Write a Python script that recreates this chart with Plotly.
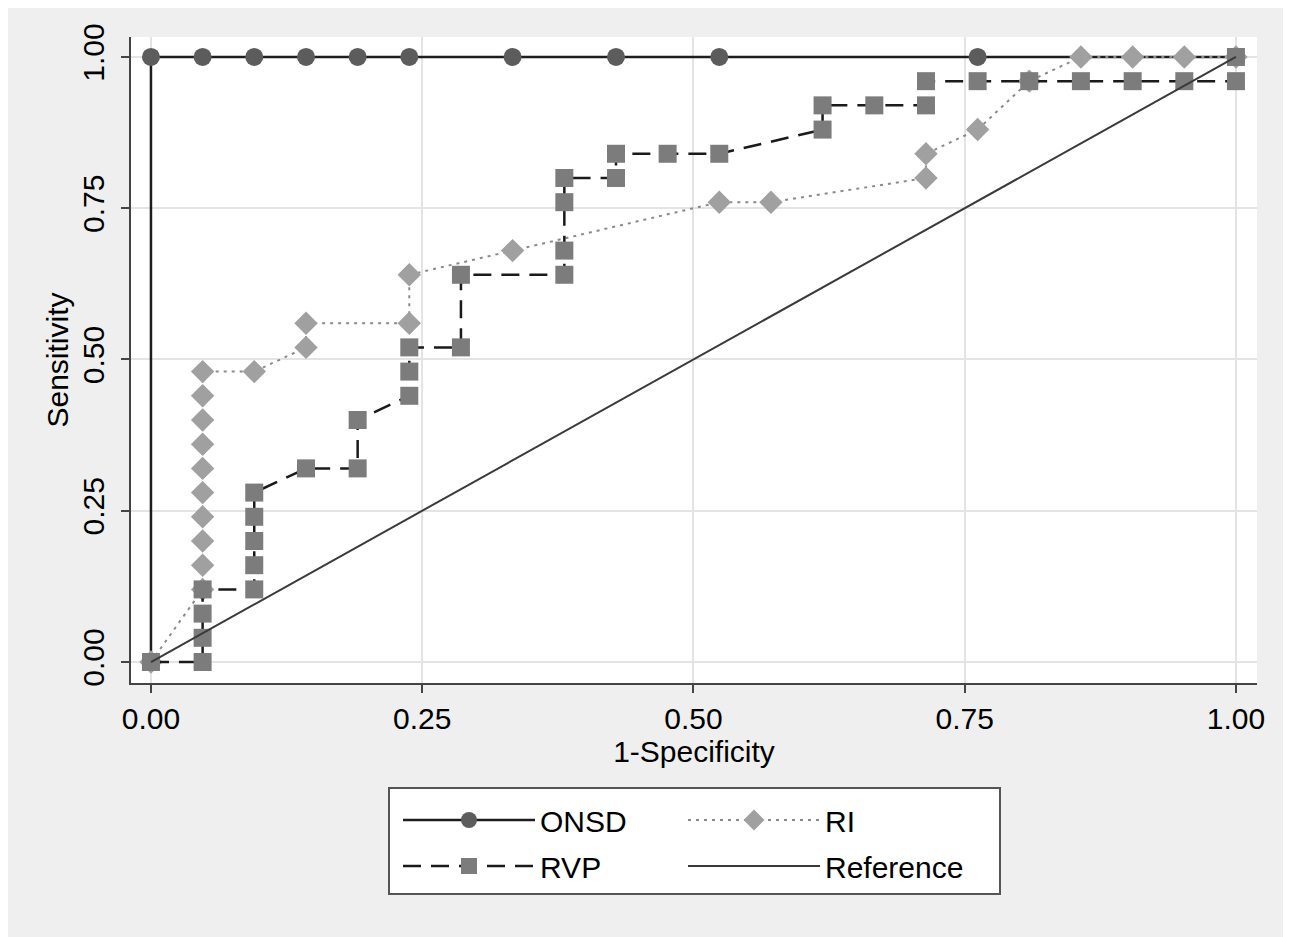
import plotly.graph_objects as go

# ---- data ----
onsd_x = [0, 0, 0.0476, 0.0952, 0.1429, 0.1905, 0.2381, 0.3333, 0.4286, 0.5238, 0.7619, 1.0]
onsd_y = [0, 1.0, 1.0, 1.0, 1.0, 1.0, 1.0, 1.0, 1.0, 1.0, 1.0, 1.0]

rvp_x = [0, 0.0476, 0.0476, 0.0476, 0.0476, 0.0952, 0.0952, 0.0952, 0.0952, 0.0952,
         0.1429, 0.1905, 0.1905, 0.2381, 0.2381, 0.2381, 0.2857, 0.2857, 0.381, 0.381,
         0.381, 0.381, 0.4286, 0.4286, 0.4762, 0.5238, 0.619, 0.619, 0.6667, 0.7143,
         0.7143, 0.7619, 0.8095, 0.8571, 0.9048, 0.9524, 1.0, 1.0]
rvp_y = [0, 0, 0.04, 0.08, 0.12, 0.12, 0.16, 0.20, 0.24, 0.28,
         0.32, 0.32, 0.40, 0.44, 0.48, 0.52, 0.52, 0.64, 0.64, 0.68,
         0.76, 0.80, 0.80, 0.84, 0.84, 0.84, 0.88, 0.92, 0.92, 0.92,
         0.96, 0.96, 0.96, 0.96, 0.96, 0.96, 0.96, 1.0]

ri_x = [0, 0.0476, 0.0476, 0.0476, 0.0476, 0.0476, 0.0476, 0.0476, 0.0476, 0.0476, 0.0476,
        0.0952, 0.1429, 0.1429, 0.2381, 0.2381, 0.3333, 0.5238, 0.5714, 0.7143, 0.7143,
        0.7619, 0.8095, 0.8571, 0.9048, 0.9524, 1.0]
ri_y = [0, 0.12, 0.16, 0.20, 0.24, 0.28, 0.32, 0.36, 0.40, 0.44, 0.48,
        0.48, 0.52, 0.56, 0.56, 0.64, 0.68, 0.76, 0.76, 0.80, 0.84,
        0.88, 0.96, 1.0, 1.0, 1.0, 1.0]

ref_x = [0, 1.0]
ref_y = [0, 1.0]

tick_vals = [0, 0.25, 0.5, 0.75, 1.0]
tick_text = ["0.00", "0.25", "0.50", "0.75", "1.00"]

FONT = "Liberation Sans, Arial, Helvetica, sans-serif"
FS = 30

fig = go.Figure()

fig.add_trace(go.Scatter(
    x=onsd_x, y=onsd_y, name="ONSD", mode="lines+markers",
    line=dict(color="#1e1e1e", width=2.5),
    marker=dict(symbol="circle", size=18, color="#5c5c5c", line=dict(width=0)),
    legend="legend", legendgroup="onsd", cliponaxis=False))

fig.add_trace(go.Scatter(
    x=ri_x, y=ri_y, name="RI", mode="lines+markers",
    line=dict(color="#8a8a8a", width=2, dash="3px,5px"),
    marker=dict(symbol="diamond", size=18, color="#a0a0a0", line=dict(width=0)),
    legend="legend2", legendgroup="ri", cliponaxis=False))

fig.add_trace(go.Scatter(
    x=rvp_x, y=rvp_y, name="RVP", mode="lines+markers",
    line=dict(color="#1a1a1a", width=2.5, dash="18px,10px"),
    marker=dict(symbol="square", size=18, color="#7c7c7c", line=dict(width=0)),
    legend="legend", legendgroup="rvp", cliponaxis=False))

fig.add_trace(go.Scatter(
    x=ref_x, y=ref_y, name="Reference", mode="lines",
    line=dict(color="#3a3a3a", width=2),
    legend="legend2", legendgroup="ref", cliponaxis=False))

# page places the figure 8px from the top-left corner
OFF = 8
W, H = 1291 - OFF, 937 - OFF
L, R, T, B = 131 - OFF, 1257 - OFF, 37 - OFF, 683 - OFF
pw, ph = R - L, B - T

def px_x(p):
    return (p - OFF - L) / pw

def px_y(p):
    return (B - (p - OFF)) / ph

shapes = [
    # legend box
    dict(type="rect", xref="paper", yref="paper", layer="below",
         x0=px_x(389), x1=px_x(1000), y0=px_y(894), y1=px_y(788),
         fillcolor="white", line=dict(color="#555555", width=2)),
]

axis_common = dict(
    tickvals=tick_vals, ticktext=tick_text,
    showgrid=True, gridcolor="#e4e4e4", gridwidth=2,
    zeroline=False, showline=True, linecolor="#444444", linewidth=2,
    ticks="outside", ticklen=8, tickwidth=2, tickcolor="#444444",
    tickfont=dict(family=FONT, size=FS, color="black"),
)

fig.update_layout(
    width=W, height=H,
    margin=dict(l=L, r=W - R, t=T, b=H - B, pad=0),
    paper_bgcolor="#efefef", plot_bgcolor="white",
    font=dict(family=FONT, size=FS, color="black"),
    shapes=shapes,
    xaxis=dict(range=[-0.0184, 1.0194], title=dict(text="1-Specificity", standoff=4,
               font=dict(family=FONT, size=FS)), **axis_common),
    yaxis=dict(range=[-0.0347, 1.033], tickangle=-90, ticklabelstandoff=5,
               title=dict(text="Sensitivity", standoff=0, font=dict(family=FONT, size=FS)),
               **axis_common),
    legend=dict(x=px_x(398), y=px_y(794), xanchor="left", yanchor="top",
                bgcolor="rgba(0,0,0,0)", borderwidth=0, itemwidth=132,
                tracegroupgap=4, font=dict(family=FONT, size=FS)),
    legend2=dict(x=px_x(683), y=px_y(794), xanchor="left", yanchor="top",
                 bgcolor="rgba(0,0,0,0)", borderwidth=0, itemwidth=132,
                 tracegroupgap=4, font=dict(family=FONT, size=FS)),
    showlegend=True,
)

fig.write_html("out.html")
